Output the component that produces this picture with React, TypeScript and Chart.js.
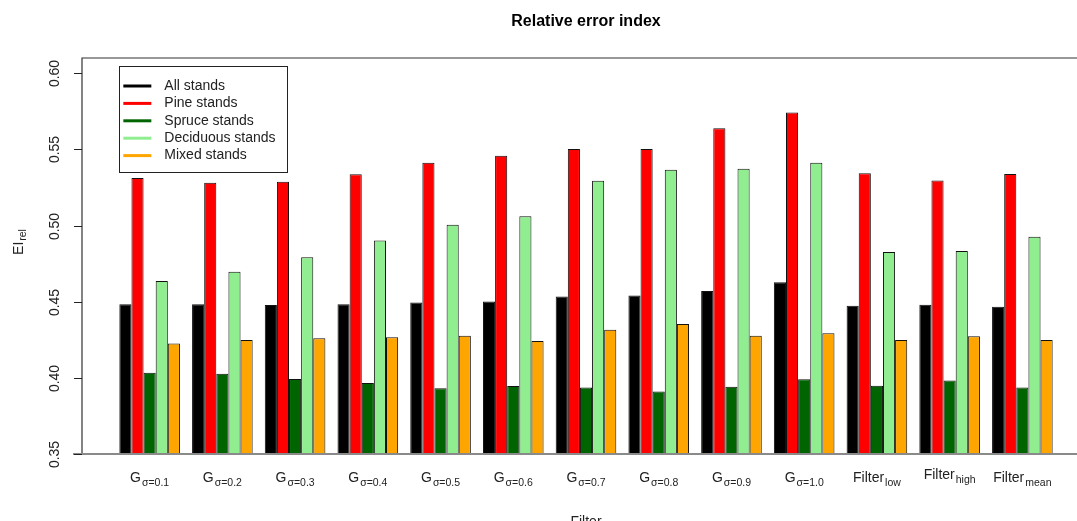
import React, { useEffect, useRef } from "react";
import { Chart, registerables } from "chart.js";

Chart.register(...registerables);

// ---- data ----
const labelMain = ["G", "G", "G", "G", "G", "G", "G", "G", "G", "G", "Filter", "Filter", "Filter"];
const labelSub = ["σ=0.1", "σ=0.2", "σ=0.3", "σ=0.4", "σ=0.5", "σ=0.6", "σ=0.7", "σ=0.8", "σ=0.9", "σ=1.0", "low", "high", "mean"];

const seriesNames = ["All stands", "Pine stands", "Spruce stands", "Deciduous stands", "Mixed stands"];
const seriesColors = ["#000000", "#FF0000", "#006400", "#90EE90", "#FFA500"];

const allStands = [0.4484, 0.4484, 0.4478, 0.4484, 0.4495, 0.4501, 0.4534, 0.4541, 0.457, 0.4627, 0.4473, 0.448, 0.4466];
const pineStands = [0.5312, 0.5281, 0.5288, 0.5336, 0.5413, 0.5459, 0.5503, 0.5503, 0.5639, 0.5742, 0.5343, 0.5296, 0.5338];
const spruceStands = [0.4034, 0.4027, 0.3992, 0.3966, 0.3931, 0.3946, 0.3937, 0.3911, 0.3941, 0.399, 0.3948, 0.3983, 0.3937];
const deciduousStands = [0.4636, 0.4697, 0.4791, 0.4901, 0.5005, 0.5061, 0.5294, 0.5367, 0.5373, 0.5413, 0.4827, 0.4833, 0.4926];
const mixedStands = [0.4225, 0.4249, 0.426, 0.4267, 0.4277, 0.4242, 0.4315, 0.4354, 0.4277, 0.4293, 0.4249, 0.4273, 0.4249];

const yTicks = [0.35, 0.4, 0.45, 0.5, 0.55, 0.6];

const titleText = "Relative error index";
const xTitle = "Filter";
const yTitleMain = "EI";
const yTitleSub = "rel";

// ---- layout helpers (R barplot geometry: 5 bars + 1 gap per group) ----
const BARS = 5;
const PITCH = BARS + 1;
const nGroups = labelMain.length;
const spanL = 1;
const spanR = nGroups * PITCH;
const ext = (spanR - spanL) * 0.04;
const groupCenter = (i: number) => 1 + i * PITCH + BARS / 2;

const FONT = '"Liberation Sans", Arial, Helvetica, sans-serif';

const seriesData = [allStands, pineStands, spruceStands, deciduousStands, mixedStands];

const decorPlugin = {
  id: "decor",
  afterDraw(chart: any) {
    const ctx = chart.ctx as CanvasRenderingContext2D;
    const { left, right, top, bottom } = chart.chartArea;
    const xs = chart.scales.x;
    const ys = chart.scales.y;
    ctx.save();

    // box
    ctx.strokeStyle = "#333";
    ctx.lineWidth = 1.2;
    ctx.beginPath();
    ctx.moveTo(left, bottom);
    ctx.lineTo(left, top);
    ctx.lineTo(right, top);
    ctx.stroke();
    ctx.strokeStyle = "#8a8a8a";
    ctx.lineWidth = 2;
    ctx.beginPath();
    ctx.moveTo(left - 9, bottom);
    ctx.lineTo(right, bottom);
    ctx.stroke();

    // y ticks & labels
    ctx.strokeStyle = "#222";
    ctx.lineWidth = 1;
    ctx.fillStyle = "#222";
    ctx.font = `14px ${FONT}`;
    ctx.textAlign = "center";
    ctx.textBaseline = "middle";
    yTicks.forEach((v) => {
      const y = Math.round(ys.getPixelForValue(v)) + 0.5;
      ctx.beginPath();
      ctx.moveTo(left - 8, y);
      ctx.lineTo(left, y);
      ctx.stroke();
      ctx.save();
      ctx.translate(left - 27, y);
      ctx.rotate(-Math.PI / 2);
      ctx.fillText(v.toFixed(2), 0, 0);
      ctx.restore();
    });

    // y title with subscript
    ctx.save();
    ctx.translate(18, 242);
    ctx.rotate(-Math.PI / 2);
    ctx.font = `14px ${FONT}`;
    const w1 = ctx.measureText(yTitleMain).width;
    ctx.font = `10.5px ${FONT}`;
    const w2 = ctx.measureText(yTitleSub).width;
    const tot = w1 + w2 + 1;
    ctx.textAlign = "left";
    ctx.textBaseline = "alphabetic";
    ctx.font = `14px ${FONT}`;
    ctx.fillText(yTitleMain, -tot / 2, 5);
    ctx.font = `10.5px ${FONT}`;
    ctx.fillText(yTitleSub, -tot / 2 + w1 + 1, 8);
    ctx.restore();

    // x labels with subscripts
    labelMain.forEach((m, i) => {
      const cx = xs.getPixelForValue(groupCenter(i));
      const sub = labelSub[i];
      const lift = /[gpqy]/.test(sub) ? 3 : 0;
      ctx.font = `14px ${FONT}`;
      const a = ctx.measureText(m).width;
      ctx.font = `10.5px ${FONT}`;
      const b = ctx.measureText(sub).width;
      const total = a + b + 1;
      const x0 = cx - total / 2;
      const base = 482 - lift;
      ctx.textAlign = "left";
      ctx.textBaseline = "alphabetic";
      ctx.font = `14px ${FONT}`;
      ctx.fillText(m, x0, base);
      ctx.font = `10.5px ${FONT}`;
      ctx.fillText(sub, x0 + a + 1, base + 4);
    });

    // x title
    ctx.font = `14px ${FONT}`;
    ctx.textAlign = "center";
    ctx.textBaseline = "alphabetic";
    ctx.fillText(xTitle, (left + right) / 2, 526);

    // main title
    ctx.fillStyle = "#000";
    ctx.font = `bold 16px ${FONT}`;
    ctx.textBaseline = "middle";
    ctx.fillText(titleText, (left + right) / 2, 22);

    // legend
    const lx = xs.getPixelForValue(spanL);
    const ly = top + 8;
    const lw = 168;
    const rowH = 17.4;
    const lh = 106;
    ctx.fillStyle = "#fff";
    ctx.fillRect(lx, ly, lw, lh);
    ctx.strokeStyle = "#222";
    ctx.lineWidth = 1;
    ctx.strokeRect(Math.round(lx) + 0.5, Math.round(ly) + 0.5, lw, lh);
    ctx.font = `14px ${FONT}`;
    ctx.textAlign = "left";
    ctx.textBaseline = "middle";
    chart.data.datasets.forEach((ds: any, k: number) => {
      const yy = ly + 20 + k * rowH;
      ctx.strokeStyle = ds.backgroundColor;
      ctx.lineWidth = 3;
      ctx.beginPath();
      ctx.moveTo(lx + 4, yy);
      ctx.lineTo(lx + 32, yy);
      ctx.stroke();
      ctx.fillStyle = "#222";
      ctx.fillText(ds.label, lx + 45, yy);
    });

    ctx.restore();
  },
};

export default function App() {
  const ref = useRef<HTMLCanvasElement | null>(null);

  useEffect(() => {
    if (!ref.current) return;
    document.body.style.margin = "0";
    const chart = new Chart(ref.current, {
      type: "bar",
      data: {
        datasets: seriesData.map((vals, k) => ({
          label: seriesNames[k],
          data: vals.map((v, i) => ({ x: groupCenter(i), y: v })),
          backgroundColor: seriesColors[k],
          borderColor: "#111",
          borderWidth: 1,
          categoryPercentage: BARS / PITCH,
          barPercentage: 1,
        })),
      },
      options: {
        animation: false,
        responsive: false,
        devicePixelRatio: 1,
        layout: { padding: { left: 0, right: 10, top: 58, bottom: 0 } },
        plugins: {
          legend: { display: false },
          title: { display: false },
          tooltip: { enabled: false },
        },
        scales: {
          x: {
            type: "linear",
            offset: false,
            min: spanL - ext,
            max: spanR + ext,
            grid: { display: false, offset: false },
            border: { display: false },
            ticks: { display: false },
            afterBuildTicks: (s: any) => {
              s.ticks = labelMain.map((_, i) => ({ value: groupCenter(i) }));
            },
            afterFit: (s: any) => {
              s.height = 67;
            },
          },
          y: {
            min: 0.35,
            max: 0.61,
            grid: { display: false },
            border: { display: false },
            ticks: { display: false },
            afterFit: (s: any) => {
              s.width = 82;
            },
          },
        },
      },
      plugins: [decorPlugin],
    });
    return () => chart.destroy();
  }, []);

  return (
    <div
      style={{
        position: "fixed",
        left: 0,
        top: 0,
        width: 1077,
        height: 521,
        overflow: "hidden",
        background: "#fff",
      }}
    >
      <canvas ref={ref} width={1100} height={521} style={{ display: "block", width: 1100, height: 521 }} />
    </div>
  );
}
